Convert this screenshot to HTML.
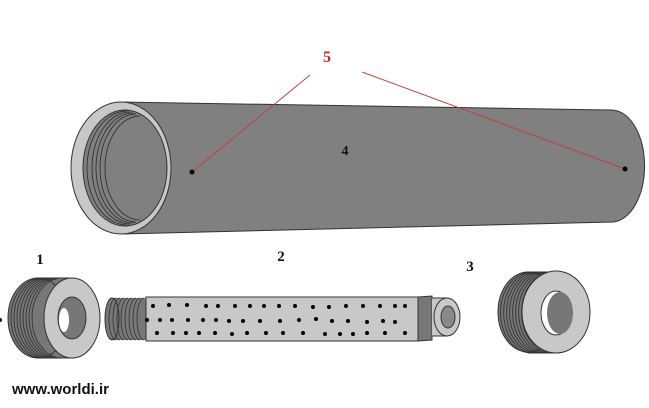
<!DOCTYPE html>
<html><head><meta charset="utf-8"><style>
html,body{margin:0;padding:0;background:#fff;width:649px;height:408px;overflow:hidden}
svg{display:block}
</style></head><body>
<svg width="649" height="408" viewBox="0 0 649 408" xmlns="http://www.w3.org/2000/svg">
<!-- big pipe -->
<path d="M121,102 L610,110 A33,56 0 0 1 613,222 L121,234 Z" fill="#808080" stroke="#333" stroke-width="1"/>
<ellipse cx="121" cy="168" rx="50" ry="66" fill="#c8c8c8" stroke="#333"/>
<ellipse cx="125" cy="168" rx="42" ry="58" fill="#808080" stroke="#333"/>
<g fill="none" stroke="#333" stroke-width="0.9">
<path d="M127,111 A40,57 0 0 0 127,225"/>
<path d="M130,112 A38,56 0 0 0 130,224"/>
<path d="M133,113 A37,55 0 0 0 133,223"/>
<path d="M136,114 A36,54 0 0 0 136,222"/>
<path d="M140,116 A35,52 0 0 0 140,220"/>
</g>
<line x1="192" y1="172" x2="310" y2="75" stroke="#c04040" stroke-width="1"/>
<line x1="625" y1="169" x2="362" y2="72" stroke="#c04040" stroke-width="1"/>
<circle cx="192" cy="172" r="2.5" fill="#000"/>
<circle cx="625" cy="169" r="2.5" fill="#000"/>
<text x="327" y="62" font-family="Liberation Serif,serif" font-weight="bold" font-size="16" fill="#d02020" text-anchor="middle">5</text>
<text x="345" y="155" font-family="Liberation Serif,serif" font-weight="bold" font-size="14" fill="#111" text-anchor="middle">4</text>

<!-- left nut -->
<rect x="38" y="278" width="34" height="80" fill="#777"/>
<ellipse cx="38" cy="318" rx="30" ry="40" fill="#777" stroke="#333"/>
<g fill="none" stroke="#333" stroke-width="0.9">
<path d="M41,278 A30,40 0 0 0 41,358"/><path d="M44,278 A30,40 0 0 0 44,358"/>
<path d="M47,278 A30,40 0 0 0 47,358"/><path d="M50,278 A30,40 0 0 0 50,358"/>
<path d="M53,278 A30,40 0 0 0 53,358"/><path d="M56,278 A30,40 0 0 0 56,358"/>
<path d="M59,278 A30,40 0 0 0 59,358"/><path d="M62,278 A30,40 0 0 0 62,358"/>
</g>
<line x1="38" y1="278" x2="72" y2="278" stroke="#333"/><line x1="38" y1="358" x2="72" y2="358" stroke="#333"/>
<ellipse cx="72" cy="318" rx="28" ry="40" fill="#c8c8c8" stroke="#333"/>
<ellipse cx="72" cy="318" rx="14" ry="21" fill="#777" stroke="#333"/>
<ellipse cx="64" cy="320" rx="5" ry="12" fill="#fff"/>
<circle cx="0" cy="320" r="2" fill="#000"/>

<!-- perforated tube -->
<rect x="112" y="298" width="40" height="42" fill="#777"/>
<ellipse cx="112" cy="319" rx="7" ry="21" fill="#777" stroke="#333"/>
<g fill="none" stroke="#333" stroke-width="0.8">
<path d="M116,298 A7,21 0 0 0 116,340"/><path d="M120,298 A7,21 0 0 0 120,340"/>
<path d="M124,298 A7,21 0 0 0 124,340"/><path d="M128,298 A7,21 0 0 0 128,340"/>
<path d="M132,298 A7,21 0 0 0 132,340"/><path d="M136,298 A7,21 0 0 0 136,340"/>
<path d="M140,298 A7,21 0 0 0 140,340"/><path d="M144,298 A7,21 0 0 0 144,340"/>
</g>
<rect x="146" y="297" width="272" height="44" fill="#c8c8c8" stroke="#333"/>
<path d="M418,297 L432,296 L432,340 L418,341 Z" fill="#777" stroke="#333"/>
<rect x="432" y="298" width="15" height="38" fill="#c8c8c8"/>
<line x1="432" y1="298" x2="447" y2="298" stroke="#333"/><line x1="432" y1="336" x2="447" y2="336" stroke="#333"/>
<ellipse cx="447" cy="317" rx="13" ry="19" fill="#c8c8c8" stroke="#333"/>
<ellipse cx="448" cy="317" rx="7" ry="11" fill="#888" stroke="#333"/>
<g fill="#000">
<circle cx="153" cy="306" r="2"/><circle cx="169" cy="305" r="2"/><circle cx="187" cy="305" r="2"/><circle cx="206" cy="306" r="2"/><circle cx="218" cy="306" r="2"/><circle cx="235" cy="306" r="2"/><circle cx="250" cy="306" r="2"/><circle cx="264" cy="306" r="2"/><circle cx="279" cy="306" r="2"/><circle cx="295" cy="306" r="2"/><circle cx="313" cy="307" r="2"/><circle cx="329" cy="307" r="2"/><circle cx="346" cy="306" r="2"/><circle cx="363" cy="306" r="2"/><circle cx="380" cy="306" r="2"/><circle cx="395" cy="306" r="2"/><circle cx="405" cy="306" r="2"/>
<circle cx="147" cy="320" r="2"/><circle cx="160" cy="320" r="2"/><circle cx="172" cy="320" r="2"/><circle cx="188" cy="320" r="2"/><circle cx="203" cy="320" r="2"/><circle cx="216" cy="320" r="2"/><circle cx="229" cy="321" r="2"/><circle cx="243" cy="321" r="2"/><circle cx="260" cy="321" r="2"/><circle cx="280" cy="321" r="2"/><circle cx="299" cy="320" r="2"/><circle cx="316" cy="319" r="2"/><circle cx="332" cy="321" r="2"/><circle cx="348" cy="321" r="2"/><circle cx="367" cy="322" r="2"/><circle cx="383" cy="321" r="2"/><circle cx="395" cy="322" r="2"/>
<circle cx="157" cy="333" r="2"/><circle cx="173" cy="333" r="2"/><circle cx="186" cy="333" r="2"/><circle cx="199" cy="333" r="2"/><circle cx="215" cy="333" r="2"/><circle cx="232" cy="334" r="2"/><circle cx="247" cy="333" r="2"/><circle cx="266" cy="333" r="2"/><circle cx="283" cy="333" r="2"/><circle cx="303" cy="333" r="2"/><circle cx="325" cy="334" r="2"/><circle cx="340" cy="334" r="2"/><circle cx="353" cy="334" r="2"/><circle cx="367" cy="333" r="2"/><circle cx="385" cy="333" r="2"/><circle cx="405" cy="333" r="2"/>
</g>

<!-- right nut -->
<rect x="528" y="272" width="28" height="81" fill="#777"/>
<ellipse cx="528" cy="312" rx="30" ry="40" fill="#777" stroke="#333"/>
<g fill="none" stroke="#333" stroke-width="0.9">
<path d="M531,272 A30,40 0 0 0 531,353"/><path d="M534,272 A30,40 0 0 0 534,353"/>
<path d="M537,272 A30,40 0 0 0 537,353"/><path d="M540,272 A30,40 0 0 0 540,353"/>
<path d="M543,272 A30,40 0 0 0 543,353"/><path d="M546,272 A30,40 0 0 0 546,353"/>
<path d="M549,272 A30,40 0 0 0 549,353"/><path d="M552,272 A30,40 0 0 0 552,353"/>
</g>
<line x1="528" y1="272" x2="556" y2="272" stroke="#333"/><line x1="528" y1="353" x2="556" y2="353" stroke="#333"/>
<ellipse cx="556" cy="312" rx="34" ry="41" fill="#c8c8c8" stroke="#333"/>
<ellipse cx="556" cy="313" rx="15" ry="22" fill="#fff" stroke="#333"/>
<ellipse cx="560" cy="313" rx="13" ry="21" fill="#777"/>

<!-- labels -->
<g font-family="Liberation Serif,serif" font-weight="bold" font-size="15" fill="#111" text-anchor="middle">
<text x="40" y="264">1</text><text x="281" y="261">2</text><text x="470" y="271">3</text>
</g>
<text x="12" y="394" font-family="Liberation Sans,sans-serif" font-weight="bold" font-size="15" fill="#111">www.worldi.ir</text>
</svg>
</body></html>
